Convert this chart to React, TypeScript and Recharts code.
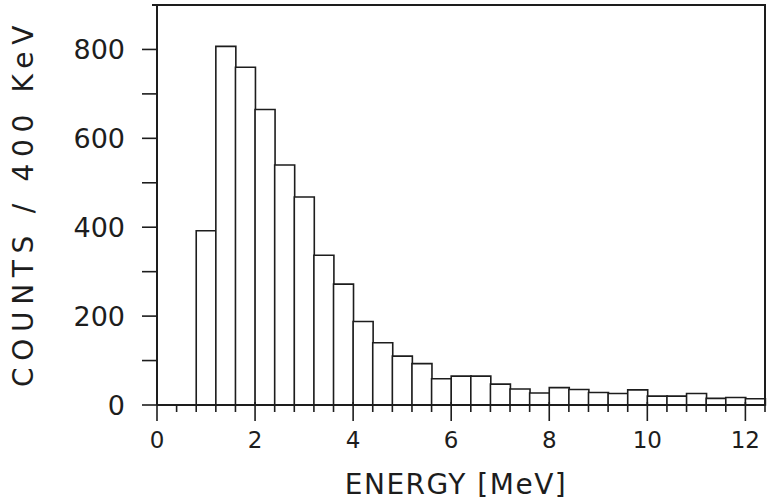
import { Bar, BarChart, ReferenceLine, XAxis, YAxis } from "recharts";

// lower edge of each 400 keV bin (MeV) and the counts in it
const binStarts = [
  0.8, 1.2, 1.6, 2.0, 2.4, 2.8, 3.2, 3.6, 4.0, 4.4, 4.8, 5.2, 5.6, 6.0, 6.4,
  6.8, 7.2, 7.6, 8.0, 8.4, 8.8, 9.2, 9.6, 10.0, 10.4, 10.8, 11.2, 11.6, 12.0,
];
const counts = [
  392, 807, 760, 665, 540, 468, 337, 272, 188, 140, 110, 93, 59, 65, 65,
  47, 36, 27, 39, 35, 28, 26, 34, 20, 20, 26, 15, 17, 14,
];

const xTicks = [
  0, 0.4, 0.8, 1.2, 1.6, 2, 2.4, 2.8, 3.2, 3.6, 4, 4.4, 4.8, 5.2, 5.6, 6, 6.4,
  6.8, 7.2, 7.6, 8, 8.4, 8.8, 9.2, 9.6, 10, 10.4, 10.8, 11.2, 11.6, 12, 12.4,
];
const xLabels = [0, 2, 4, 6, 8, 10, 12];
const yTicks = [0, 100, 200, 300, 400, 500, 600, 700, 800, 900];
const yLabels = [0, 200, 400, 600, 800];

const data = binStarts.map((s, i) => ({
  energy: Number((s + 0.2).toFixed(1)),
  counts: counts[i],
}));

const INK = "#1d1d1d";
const FONT = "'DejaVu Sans', sans-serif";

function EnergyTick(props: any) {
  const { x, y, payload } = props;
  const major = xLabels.includes(payload.value);
  return (
    <g>
      <line
        x1={x}
        x2={x}
        y1={major ? y - 3 : y}
        y2={y + (major ? 16 : 7)}
        stroke={INK}
        strokeWidth={1.6}
      />
      {major && (
        <text x={x} y={y + 43} textAnchor="middle" fontSize={23} fill={INK} fontFamily={FONT}>
          {payload.value}
        </text>
      )}
    </g>
  );
}

function CountTick(props: any) {
  const { x, y, payload } = props;
  const v = payload.value;
  return (
    <g>
      <line x1={v === 900 ? x - 5 : x - 15} x2={x} y1={y} y2={y} stroke={INK} strokeWidth={1.6} />
      {yLabels.includes(v) && (
        <text x={x - 32} y={y + 9.5} textAnchor="end" fontSize={27} fill={INK} fontFamily={FONT}>
          {v}
        </text>
      )}
    </g>
  );
}

export default function App() {
  return (
    <div style={{ position: "absolute", left: 0, top: 0, background: "#fff", width: 767, height: 504 }}>
      <BarChart
        width={767}
        height={504}
        data={data}
        margin={{ top: 5, right: 2, bottom: 0, left: 0 }}
        barCategoryGap={0}
        barGap={0}
      >
        <XAxis
          dataKey="energy"
          type="number"
          domain={[0, 12.4]}
          ticks={xTicks}
          interval={0}
          height={99}
          tickSize={0}
          tickMargin={0}
          tickLine={false}
          tick={<EnergyTick />}
          stroke={INK}
          strokeWidth={2}
          label={(p: any) => (
            <text
              x={p.viewBox.x + p.viewBox.width / 2 - 5}
              y={p.viewBox.y + 89}
              textAnchor="middle"
              fontSize={28}
              letterSpacing={1.5}
              fill={INK}
              fontFamily={FONT}
            >
              ENERGY [MeV]
            </text>
          )}
        />
        <YAxis
          type="number"
          domain={[0, 900]}
          ticks={yTicks}
          interval={0}
          width={157}
          tickSize={0}
          tickMargin={0}
          tickLine={false}
          tick={<CountTick />}
          stroke={INK}
          strokeWidth={2}
          label={() => (
            <text
              x={33}
              y={203}
              transform="rotate(-90, 33, 203)"
              textAnchor="middle"
              fontSize={28}
              letterSpacing={6.7}
              fill={INK}
              fontFamily={FONT}
            >
              COUNTS / 400 KeV
            </text>
          )}
        />
        <Bar
          dataKey="counts"
          fill="#fff"
          stroke={INK}
          strokeWidth={1.6}
          isAnimationActive={false}
        />
        <ReferenceLine y={900} stroke={INK} strokeWidth={2} />
        <ReferenceLine x={12.4} stroke={INK} strokeWidth={2} />
      </BarChart>
      {/* top and right edges of the plot frame */}
      <div
        style={{
          position: "absolute",
          left: 152,
          top: 4,
          width: 614,
          height: 401,
          boxSizing: "border-box",
          borderTop: `2px solid ${INK}`,
          borderRight: `2px solid ${INK}`,
          pointerEvents: "none",
        }}
      />
    </div>
  );
}
